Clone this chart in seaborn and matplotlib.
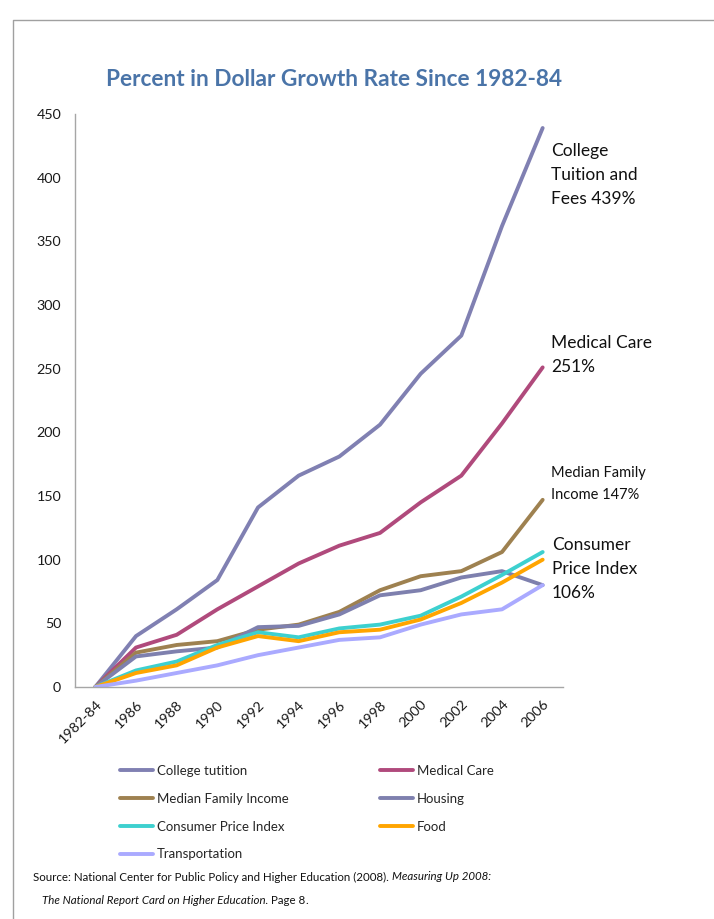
import matplotlib
matplotlib.use("Agg")
import matplotlib.pyplot as plt
import seaborn as sns
import pandas as pd
from matplotlib.lines import Line2D

years = ["1982-84", "1986", "1988", "1990", "1992", "1994", "1996", "1998",
         "2000", "2002", "2004", "2006"]
college_tuition = [0, 40, 61, 84, 141, 166, 181, 206, 246, 276, 362, 439]
medical_care = [0, 31, 41, 61, 79, 97, 111, 121, 145, 166, 207, 251]
median_family_income = [0, 27, 33, 36, 45, 49, 59, 76, 87, 91, 106, 147]
housing = [0, 24, 28, 31, 47, 48, 57, 72, 76, 86, 91, 80]
consumer_price_index = [0, 13, 20, 33, 43, 39, 46, 49, 56, 71, 88, 106]
food = [0, 11, 17, 31, 40, 36, 43, 45, 53, 66, 82, 100]
transportation = [0, 5, 11, 17, 25, 31, 37, 39, 49, 57, 61, 80]

series_names = ["College tutition", "Medical Care", "Median Family Income",
                "Housing", "Consumer Price Index", "Food", "Transportation"]
series_values = [college_tuition, medical_care, median_family_income, housing,
                 consumer_price_index, food, transportation]
colors = ["#8080b2", "#b04a7c", "#9e8150", "#7e80ae", "#3dd0cf", "#ffa500", "#aaaaff"]

rows = []
for name, vals in zip(series_names, series_values):
    for y, v in zip(years, vals):
        rows.append({"year": y, "value": v, "series": name})
df = pd.DataFrame(rows)

sns.set_style("white")
plt.rcParams["font.family"] = ["Lato", "DejaVu Sans"]

W, H = 714, 919
fig = plt.figure(figsize=(W / 100, H / 100), dpi=100)
ax = fig.add_axes([75 / W, 1 - 687 / H, (563 - 75) / W, (687 - 114) / H])

sns.lineplot(data=df, x="year", y="value", hue="series", hue_order=series_names,
             palette=dict(zip(series_names, colors)), sort=False, linewidth=2.8,
             ax=ax, legend=False)

ax.set_xlim(-0.5, len(years) - 0.5)
ax.set_ylim(0, 450)
ax.set_yticks(range(0, 451, 50))
ax.set_xlabel("")
ax.set_ylabel("")
for s in ["top", "right"]:
    ax.spines[s].set_visible(False)
for s in ["left", "bottom"]:
    ax.spines[s].set_color("#a6a6a6")
    ax.spines[s].set_linewidth(1.0)
ax.tick_params(axis="y", length=0, pad=10, labelsize=10.3, labelcolor="#1a1a1a")
ax.tick_params(axis="x", length=0, pad=8, labelsize=10.3, labelcolor="#1a1a1a")
for lab in ax.get_xticklabels():
    lab.set_rotation(45)
    lab.set_ha("right")
    lab.set_va("top")
    lab.set_rotation_mode("anchor")

# Title
fig.text(334 / W, 1 - 80 / H, "Percent in Dollar Growth Rate Since 1982-84",
         ha="center", va="center", fontsize=16.3, fontweight="bold", color="#4a74a8")

# End annotations
fig.text(551 / W, 1 - 143 / H, "College\nTuition and\nFees 439%", ha="left", va="top",
         fontsize=12.5, color="#111111", linespacing=1.62)
fig.text(551 / W, 1 - 335 / H, "Medical Care\n251%", ha="left", va="top",
         fontsize=12.5, color="#111111", linespacing=1.62)
fig.text(551 / W, 1 - 466 / H, "Median Family\nIncome 147%", ha="left", va="top",
         fontsize=10.5, color="#111111", linespacing=1.75)
fig.text(552 / W, 1 - 537 / H, "Consumer\nPrice Index\n106%", ha="left", va="top",
         fontsize=12.5, color="#111111", linespacing=1.62)

# Legend (row order as in reference)
handles = {n: Line2D([], [], color=c, lw=2.8) for n, c in zip(series_names, colors)}
order = ["College tutition", "Median Family Income", "Consumer Price Index",
         "Transportation", "Medical Care", "Housing", "Food"]
fig.legend([handles[n] for n in order], order, ncol=2, frameon=False,
           loc="upper left", bbox_to_anchor=(120 / W, 1 - 765 / H),
           borderpad=0, borderaxespad=0, fontsize=9.5, handlelength=2.5,
           handletextpad=0.3, labelspacing=1.2, columnspacing=6.9)

# Source with mixed italics
renderer = fig.canvas.get_renderer()

def rich_line(x, y, parts, size=8.3):
    for txt, style in parts:
        t = fig.text(x / W, 1 - y / H, txt, ha="left", va="center", fontsize=size,
                     style=style, color="#111111")
        bb = t.get_window_extent(renderer=renderer)
        x += bb.width

rich_line(33, 877, [("Source: National Center for Public Policy and Higher Education (2008). ", "normal"),
                    ("Measuring Up 2008:", "italic")])
rich_line(42, 900, [("The National Report Card on Higher Education.", "italic"),
                    (" Page 8", "normal"), (".", "normal")])

# Frame border
fig.add_artist(Line2D([13 / W, 13 / W, 1.0], [0.0, 1 - 20 / H, 1 - 20 / H],
                      transform=fig.transFigure, color="#a0a0a0", lw=1.0))

fig.savefig("out.png", dpi=100)
